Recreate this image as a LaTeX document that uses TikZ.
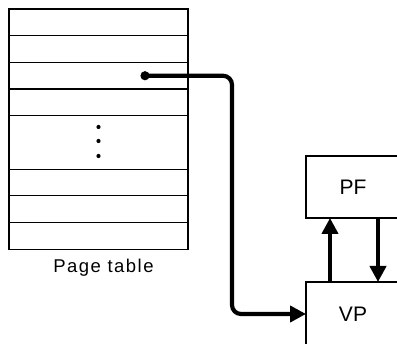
\documentclass[tikz,border=0pt]{standalone}
\usepackage{fontspec}
\setmainfont{Liberation Sans}
\usetikzlibrary{arrows.meta, positioning, calc}

\begin{document}
\begin{tikzpicture}[
            x=1pt, y=1pt,
            node distance=0pt,
            cell/.style={draw, line width=1.2pt, minimum width=179pt, minimum height=26.7pt, inner sep=0pt, outer sep=0pt},
            frame/.style={draw, line width=1.4pt, minimum width=94pt, inner sep=0pt, outer sep=0pt, font=\fontsize{21}{25}\selectfont},
            tabname/.style={font=\fontsize{18.5}{22}\selectfont\addfontfeatures{LetterSpace=8}},
            arr/.style={-{Triangle[length=16pt, width=16pt]}, line width=4.2pt}
        ]
            \useasboundingbox (0,0) rectangle (397,-344);
            \clip (0,0) rectangle (397,-344);

            % page table
            \node[cell] (r1) at (98.5,-22.35) {};
            \node[cell, below=of r1] (r2) {};
            \node[cell, below=of r2] (r3) {};
            \node[cell, below=of r3] (r4) {};
            \node[cell, below=of r4, minimum height=53.4pt] (rd) {};
            \node[cell, below=of rd] (r5) {};
            \node[cell, below=of r5] (r6) {};
            \node[cell, below=of r6] (r7) {};
            \node[tabname, below=6pt of r7, xshift=5pt] (cap) {Page table};

            \foreach \dy in {15.5, 1.5, -13.5}
                \fill ([yshift=\dy pt]rd.center) circle (2.1pt);

            % frames
            \node[frame, minimum height=62pt] (PF) at (353,-187) {PF};
            \node[frame, minimum height=64pt] (VP) at (353,-314) {VP};

            \coordinate (ptr) at ([xshift=46.5pt]r3.center);
            \fill (ptr) circle (4.6pt);
            \draw[arr, rounded corners=9pt] (ptr) -| ([xshift=-74pt]VP.west) -- (VP.west);
            \draw[arr] ([xshift=-23pt]VP.north) -- ([xshift=-23pt]PF.south);
            \draw[arr] ([xshift=25pt]PF.south) -- ([xshift=25pt]VP.north);
        \end{tikzpicture}
\end{document}
